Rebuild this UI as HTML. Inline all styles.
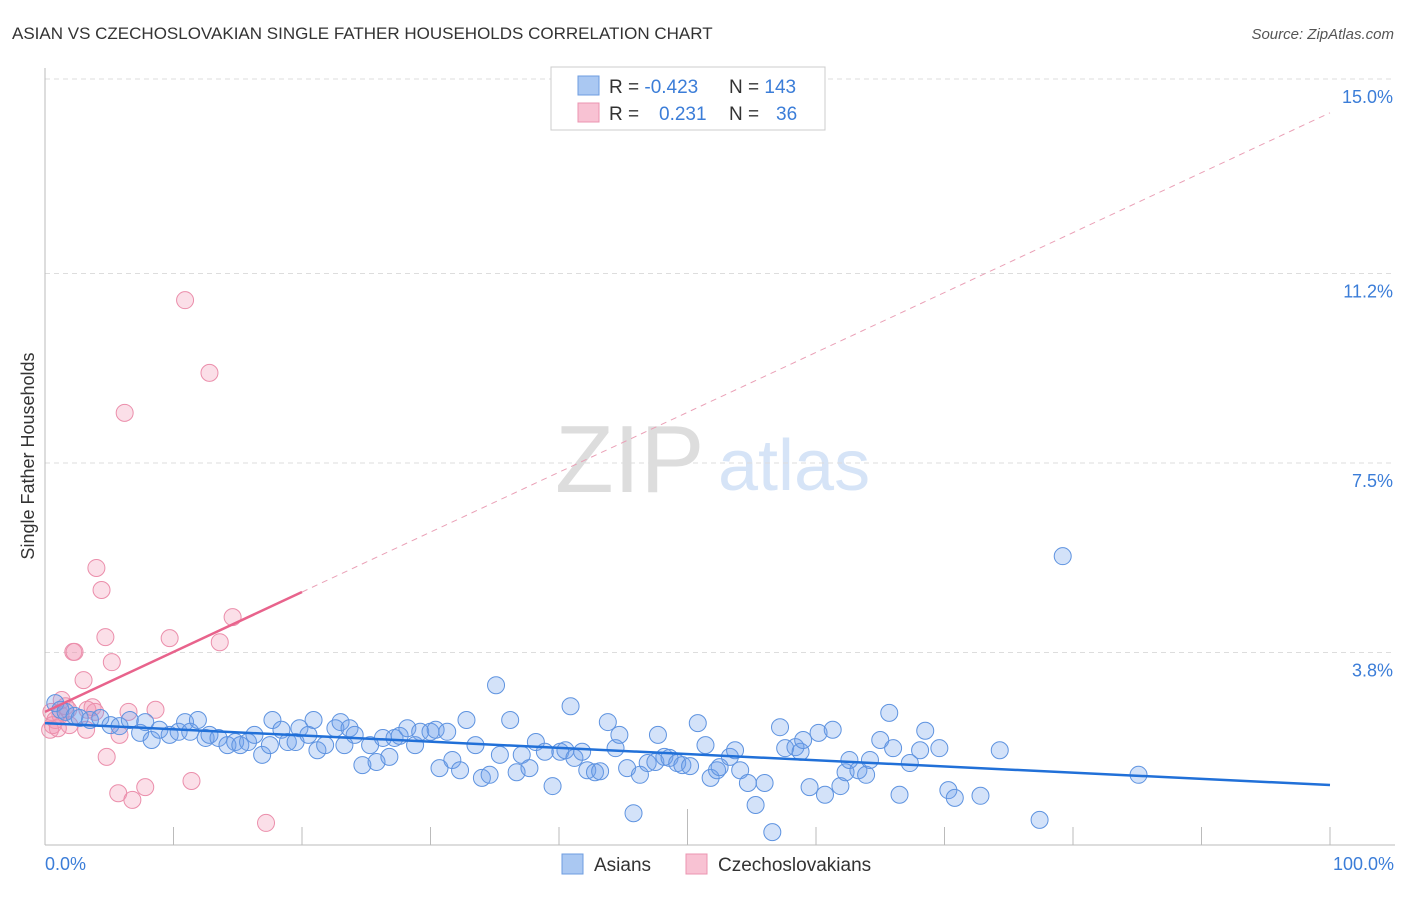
<!DOCTYPE html>
<html><head><meta charset="utf-8"><style>
body{margin:0;background:#fff;font-family:"Liberation Sans",sans-serif;}
svg text{font-family:"Liberation Sans",sans-serif;}
</style></head><body>
<svg id="chart" width="1406" height="892" xmlns="http://www.w3.org/2000/svg">
<text x="12" y="39" font-size="17" fill="#333">ASIAN VS CZECHOSLOVAKIAN SINGLE FATHER HOUSEHOLDS CORRELATION CHART</text>
<text x="1394" y="39" font-size="15" fill="#555" font-style="italic" text-anchor="end">Source: ZipAtlas.com</text>
<text x="555" y="492" font-size="96" fill="#ddd" font-family="Liberation Serif">ZIP</text>
<text x="718" y="490" font-size="72" fill="#d6e4f7">atlas</text>
<g id="grid"></g>
<line x1="45" y1="68" x2="45" y2="845" stroke="#bbb"/>
<line x1="45" y1="845" x2="1395" y2="845" stroke="#bbb"/>
<g id="xticks"></g>
<text transform="translate(34,456) rotate(-90)" font-size="18" fill="#333" text-anchor="middle">Single Father Households</text>
<text x="45" y="870" font-size="18" fill="#3b7dd8">0.0%</text>
<text x="1394" y="870" font-size="18" fill="#3b7dd8" text-anchor="end">100.0%</text>
<g id="pinkpts"></g><g id="bluepts"></g><g id="trends"></g>
<g>
<rect x="551" y="67" width="274" height="63" fill="#fff" stroke="#ccc"/>
<rect x="578" y="76" width="21" height="19" fill="#aac8f2" stroke="#6e9de0"/>
<rect x="578" y="103" width="21" height="19" fill="#f8c2d3" stroke="#eb94b0"/>
<text x="609" y="93" font-size="19" fill="#333">R = <tspan fill="#3b7dd8">-0.423</tspan><tspan x="729">N = </tspan><tspan fill="#3b7dd8">143</tspan></text>
<text x="609" y="120" font-size="19" fill="#333">R = <tspan x="659" fill="#3b7dd8">0.231</tspan><tspan x="729">N = </tspan><tspan x="776" fill="#3b7dd8">36</tspan></text>
</g>
<rect x="562" y="854" width="21" height="20" fill="#aac8f2" stroke="#6e9de0"/>
<text x="594" y="871" font-size="19" fill="#333">Asians</text>
<rect x="686" y="854" width="21" height="20" fill="#f8c2d3" stroke="#eb94b0"/>
<text x="718" y="871" font-size="19" fill="#333">Czechoslovakians</text>
</svg>
<script>
const yTicks=[3.8,7.5,11.2,15.0];
const yTickLabels=["3.8%","7.5%","11.2%","15.0%"];
const blueX=[0.8,1.2,1.6,2.3,2.7,3.5,4.3,5.1,5.8,6.6,7.4,7.8,8.3,8.9,9.7,10.4,10.9,11.3,11.9,12.5,12.8,13.5,14.2,14.8,15.2,15.8,16.3,16.9,17.5,17.7,18.4,18.9,19.5,19.8,20.5,20.9,21.2,21.8,22.6,23.0,23.3,23.7,24.1,24.7,25.3,25.8,26.3,26.8,27.2,27.6,28.2,28.8,29.2,30.0,30.4,30.7,31.3,31.7,32.3,32.8,33.5,34.0,34.6,35.1,35.4,36.2,36.7,37.1,37.7,38.2,38.9,39.5,40.1,40.5,40.9,41.2,41.8,42.2,42.8,43.2,43.8,44.4,44.7,45.3,45.8,46.3,46.9,47.5,47.7,48.2,48.6,49.2,49.6,50.2,50.8,51.4,51.8,52.3,52.5,53.3,53.7,54.1,54.7,55.3,56.0,56.6,57.2,57.6,58.4,58.8,59.0,59.5,60.2,60.7,61.3,61.9,62.3,62.6,63.3,63.9,64.2,65.0,65.7,66.0,66.5,67.3,68.1,68.5,69.6,70.3,70.8,72.8,74.3,77.4,79.2,85.1];
const blueY=[2.81,2.68,2.64,2.56,2.52,2.48,2.52,2.38,2.36,2.48,2.23,2.44,2.09,2.29,2.19,2.25,2.44,2.25,2.48,2.13,2.19,2.13,1.99,2.05,1.99,2.05,2.19,1.80,1.99,2.48,2.29,2.05,2.05,2.32,2.19,2.48,1.89,1.99,2.32,2.44,1.99,2.32,2.19,1.60,1.99,1.66,2.13,1.76,2.13,2.17,2.32,1.99,2.25,2.25,2.29,1.54,2.25,1.70,1.50,2.48,1.99,1.35,1.41,3.16,1.80,2.48,1.46,1.80,1.54,2.05,1.86,1.19,1.86,1.89,2.75,1.74,1.86,1.50,1.46,1.48,2.44,1.93,2.19,1.54,0.66,1.41,1.64,1.66,2.19,1.76,1.74,1.64,1.60,1.58,2.42,1.99,1.35,1.50,1.56,1.76,1.89,1.50,1.25,0.82,1.25,0.29,2.34,1.93,1.95,1.86,2.09,1.17,2.23,1.02,2.29,1.19,1.46,1.70,1.50,1.41,1.70,2.09,2.62,1.93,1.02,1.64,1.89,2.27,1.93,1.11,0.96,1.00,1.89,0.53,5.68,1.41];
const pinkX=[0.5,0.8,1.2,1.3,1.6,1.8,1.9,2.2,2.3,3.0,3.2,3.3,3.7,4.0,4.4,4.7,4.8,5.2,5.7,5.8,6.2,6.5,6.8,7.8,8.6,9.7,10.9,11.4,12.8,13.6,14.6,17.2,0.4,0.6,1.0,3.9];
const pinkY=[2.64,2.48,2.58,2.87,2.75,2.68,2.38,3.81,3.81,3.26,2.29,2.68,2.73,5.45,5.02,4.10,1.76,3.61,1.05,2.19,8.48,2.64,0.92,1.17,2.68,4.08,10.68,1.29,9.26,4.00,4.49,0.47,2.29,2.38,2.32,2.64];
const blueTrend=[2.42,1.21]; // value at 0% and 100%
const pinkTrend=[2.64,14.34];
const pinkSolidEnd=20;
const NS="http://www.w3.org/2000/svg";
const sx=v=>45+v*12.85, sy=v=>847-v*51.2;
function mk(tag,attrs,parent){const e=document.createElementNS(NS,tag);for(const k in attrs)e.setAttribute(k,attrs[k]);parent.appendChild(e);return e;}
const grid=document.getElementById('grid');
yTicks.forEach((t,i)=>{
 const l=mk('line',{x1:45,x2:1395,y1:sy(t),y2:sy(t),stroke:'#ddd','stroke-dasharray':'5,4'},grid);
 
 
 const tx=mk('text',{x:1393,y:sy(t)+24,'font-size':18,fill:'#3b7dd8','text-anchor':'end'},grid);
 tx.textContent=yTickLabels[i];
 
 
});
const xt=document.getElementById('xticks');
for(let i=1;i<=10;i++){
 const l=mk('line',{x1:sx(i*10),x2:sx(i*10),y1:i==5?809:827,y2:845,stroke:'#bbb'},xt);
 
 
}
const pg=document.getElementById('pinkpts');
pinkX.forEach((x,i)=>{
 const c=mk('circle',{cx:sx(x),cy:sy(pinkY[i]),r:8.5,fill:'rgba(242,150,180,0.3)',stroke:'#eb8eab','stroke-width':1},pg);
 
 
});
const bg=document.getElementById('bluepts');
blueX.forEach((x,i)=>{
 const c=mk('circle',{cx:sx(x),cy:sy(blueY[i]),r:8.5,fill:'rgba(110,160,235,0.3)',stroke:'#5e93e0','stroke-width':1},bg);
 
 
});
const tg=document.getElementById('trends');
const pAt=x=>pinkTrend[0]+(pinkTrend[1]-pinkTrend[0])*x/100;
let l1=mk('line',{x1:sx(0),y1:sy(blueTrend[0]),x2:sx(100),y2:sy(blueTrend[1]),stroke:'#2170d8','stroke-width':2.5},tg);


let l2=mk('line',{x1:sx(pinkSolidEnd),y1:sy(pAt(pinkSolidEnd)),x2:sx(100),y2:sy(pinkTrend[1]),stroke:'#eaa0b6','stroke-width':1,'stroke-dasharray':'6,5'},tg);


let l3=mk('line',{x1:sx(0),y1:sy(pinkTrend[0]),x2:sx(pinkSolidEnd),y2:sy(pAt(pinkSolidEnd)),stroke:'#e8638c','stroke-width':2.5},tg);


</script>
</body></html>
